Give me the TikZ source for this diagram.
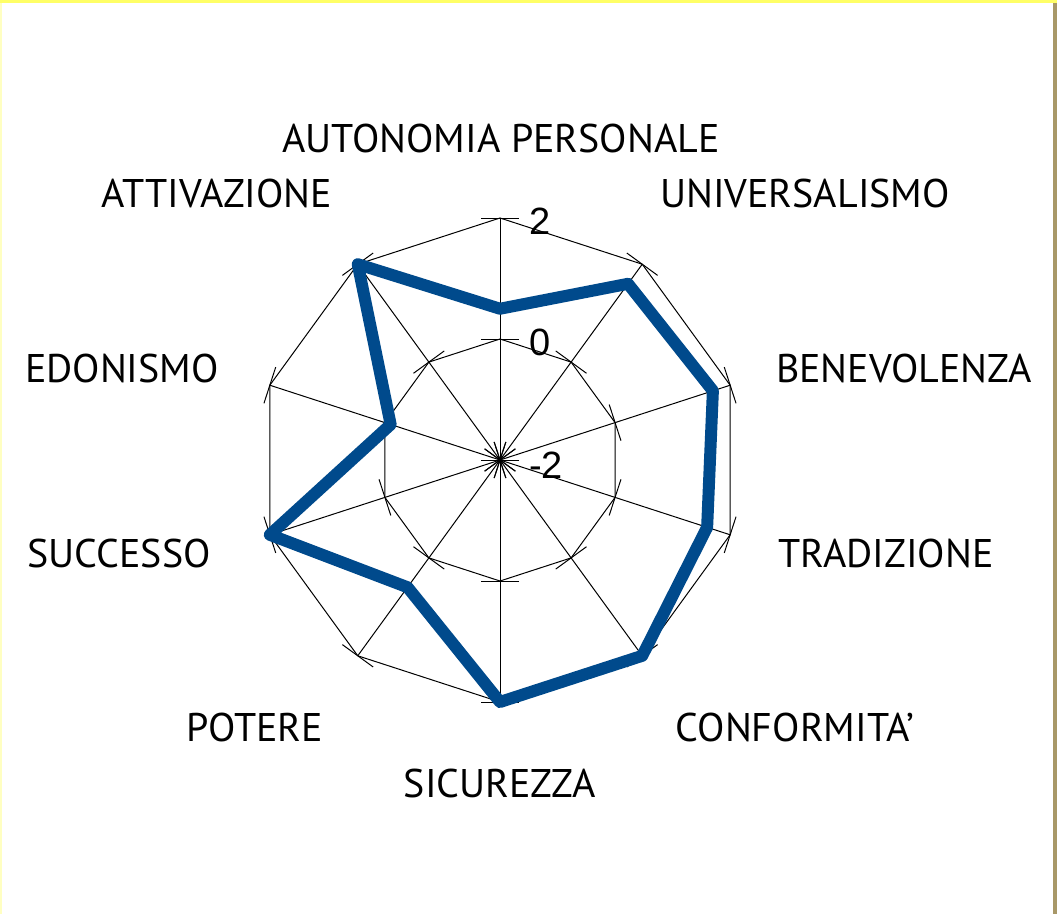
\documentclass[tikz,border=0pt]{standalone}
\usepackage{fontspec}
\setmainfont{PT Sans}
\newfontfamily\numfont{Liberation Sans}
\usetikzlibrary{positioning}
\definecolor{seriesblue}{RGB}{0,74,140}
\definecolor{frameyellow}{RGB}{255,255,102}
\definecolor{frameolive}{RGB}{168,152,104}

\begin{document}
\begin{tikzpicture}[x=1pt,y=1pt,
    axislabel/.style={font=\fontsize{40}{44}\selectfont, inner sep=0pt},
    ticklabel/.style={font=\numfont\fontsize{38}{40}\selectfont, inner sep=0pt, anchor=west},
    gridline/.style={black, line width=1pt}]
% Page and frame
\useasboundingbox (-500,-454) rectangle (557,460);
\fill[white] (-500,-454) rectangle (557,460);
\fill[frameyellow] (-500,457) rectangle (557,460);
\fill[frameyellow!40] (-500,-454) rectangle (-498,457);
\fill[frameolive] (553,-454) rectangle (557,457);

% Spokes with tick marks at -2, 0 and 2
\foreach \i in {0,...,9} {
    \begin{scope}[rotate=-36*\i]
        \draw[gridline] (0,0) -- (0,242);
        \foreach \r in {0,121,242}
            \draw[gridline] (-19,\r) -- (19,\r);
    \end{scope}
}

% Rings at 0 and 2
\foreach \r in {121,242}
    \draw[gridline] (90:\r) \foreach \i in {1,...,9} { -- (90-36*\i:\r) } -- cycle;

% Scale labels
\node[ticklabel] (val2) at (29,239) {2};
\node[ticklabel] (val0) at (29,118) {0};
\node[ticklabel] (valm2) at (29,-5) {-2};

% Data series
\foreach \v [count=\i from 0] in {0.5,1.6,1.7,1.6,2,2,0.6,2,-0.1,2}
    \coordinate (p\i) at (90-36*\i:{(\v+2)*60.5});
\draw[seriesblue, line width=12pt, line join=round]
    (p0) -- (p1) -- (p2) -- (p3) -- (p4) -- (p5) -- (p6) -- (p7) -- (p8) -- (p9) -- cycle;

% Axis labels
\node[axislabel] (autonomia) at (1,322) {AUTONOMIA PERSONALE};
\node[axislabel] (universalismo) at (305,267) {UNIVERSALISMO};
\node[axislabel] (benevolenza) at (404,92) {BENEVOLENZA};
\node[axislabel] (tradizione) at (386,-93) {TRADIZIONE};
\node[axislabel] (conformita) at (295,-267) {CONFORMITA'};
\node[axislabel] (sicurezza) at (0,-323) {SICUREZZA};
\node[axislabel] (potere) at (-245,-267) {POTERE};
\node[axislabel] (successo) at (-381,-93) {SUCCESSO};
\node[axislabel] (edonismo) at (-378,92) {EDONISMO};
\node[axislabel] (attivazione) at (-283,267) {ATTIVAZIONE};
\end{tikzpicture}
\end{document}
